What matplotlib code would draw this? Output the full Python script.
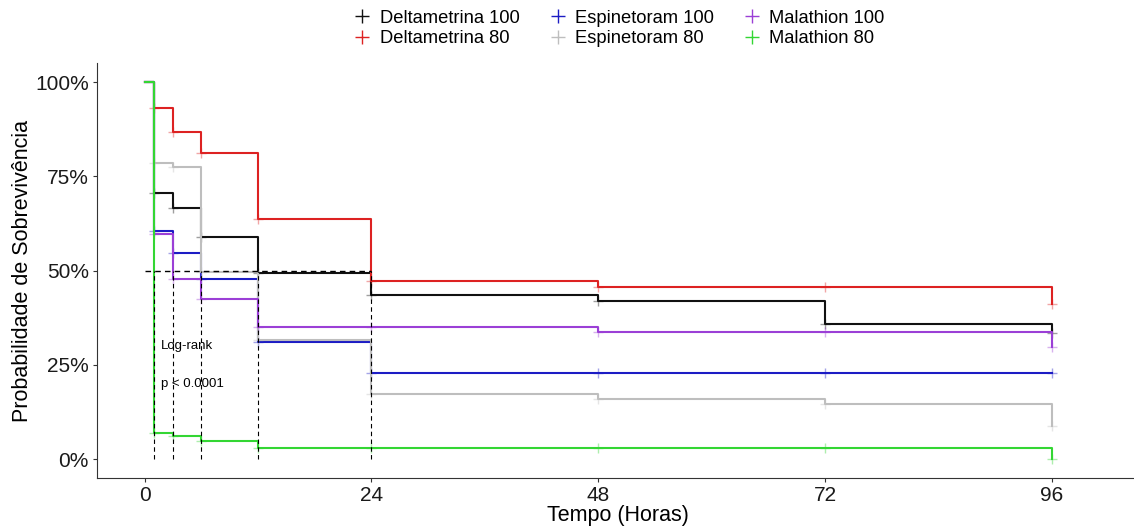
import numpy as np
import matplotlib
matplotlib.use("Agg")
import matplotlib.pyplot as plt
from matplotlib.lines import Line2D
from matplotlib.ticker import FuncFormatter

plt.rcParams["font.family"] = ["Liberation Sans", "DejaVu Sans"]

# Kaplan-Meier step values (survival after each time point)
times = [0, 1, 3, 6, 12, 24, 48, 72, 96]
deltametrina_100 = [1.0, 0.705, 0.665, 0.590, 0.494, 0.435, 0.420, 0.358, 0.334]
deltametrina_80 = [1.0, 0.932, 0.868, 0.811, 0.637, 0.473, 0.457, 0.457, 0.411]
espinetoram_100 = [1.0, 0.605, 0.546, 0.477, 0.311, 0.227, 0.227, 0.227, 0.227]
espinetoram_80 = [1.0, 0.784, 0.775, 0.497, 0.317, 0.172, 0.159, 0.145, 0.088]
malathion_100 = [1.0, 0.598, 0.477, 0.424, 0.351, 0.351, 0.336, 0.336, 0.297]
malathion_80 = [1.0, 0.070, 0.061, 0.049, 0.030, 0.030, 0.030, 0.030, 0.0]

labels = ["Deltametrina 100", "Deltametrina 80", "Espinetoram 100",
          "Espinetoram 80", "Malathion 100", "Malathion 80"]
series = [deltametrina_100, deltametrina_80, espinetoram_100,
          espinetoram_80, malathion_100, malathion_80]
colors = ["#111111", "#DD2222", "#1C1CC4", "#BEBEBE", "#9B3FD6", "#33D633"]

x_ticks = [0, 24, 48, 72, 96]
y_ticks = [0, 0.25, 0.5, 0.75, 1.0]

fig = plt.figure(figsize=(11.34, 5.29), dpi=100)
ax = fig.add_axes([0.0858, 0.0966, 0.9168, 0.7839])

for s, c in zip(series, colors):
    ax.step(times, s, where="post", color=c, lw=1.5, zorder=2)
    ax.plot(times[1:], s[1:], ls="none", marker="+", ms=7, mew=1.0,
            color=c, alpha=0.4, zorder=2)

# median survival lines
medians = [next(t for t, v in zip(times, s) if v <= 0.5) for s in series]
ax.plot([0, max(medians)], [0.5, 0.5], color="black", lw=1.0,
        ls=(0, (4, 3)), zorder=3)
for m in sorted(set(medians)):
    ax.plot([m, m], [0, 0.5], color="black", lw=0.8, ls=(0, (4, 3)), zorder=3)

ax.text(1.7, 0.30, "Log-rank", fontsize=9.5, va="center", ha="left")
ax.text(1.7, 0.20, "p < 0.0001", fontsize=9.5, va="center", ha="left")

ax.set_xlim(-5, 105)
ax.set_ylim(-0.05, 1.05)
ax.set_xticks(x_ticks)
ax.set_yticks(y_ticks)
ax.yaxis.set_major_formatter(FuncFormatter(lambda v, p: f"{v * 100:.0f}%"))
ax.tick_params(labelsize=15, length=3, width=0.8, color="#333333",
               labelcolor="#1a1a1a", pad=3)
for side in ["top", "right"]:
    ax.spines[side].set_visible(False)
for side in ["left", "bottom"]:
    ax.spines[side].set_linewidth(0.8)
    ax.spines[side].set_color("#333333")

ax.set_xlabel("Tempo (Horas)", fontsize=15.5)
ax.set_ylabel("Probabilidade de Sobrevivência", fontsize=15.5)
ax.xaxis.set_label_coords(0.5008, -0.0895)
ax.yaxis.set_label_coords(-0.0724, 0.5)
ax.xaxis.label.set_va("center")
ax.yaxis.label.set_va("center")

handles = [Line2D([], [], color=c, ls="none", marker="+", ms=10, mew=1.0)
           for c in colors]
fig.legend(handles, labels, loc="upper center", bbox_to_anchor=(0.5465, 1.011),
           ncol=3, frameon=False, fontsize=13.2, handlelength=0.8,
           handletextpad=0.55, columnspacing=1.68, labelspacing=0.2,
           borderpad=0.35)

fig.savefig("out.png", dpi=100)
